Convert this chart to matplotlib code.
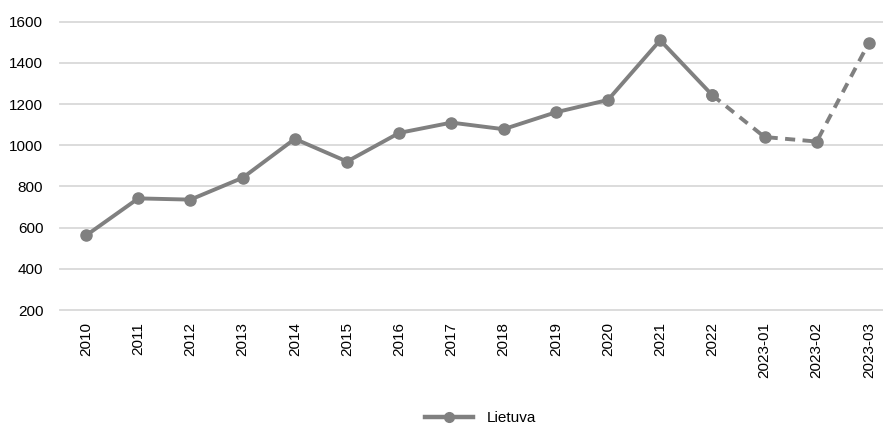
import matplotlib
matplotlib.use("Agg")
import matplotlib.pyplot as plt
from matplotlib.lines import Line2D

plt.rcParams['font.family'] = ['Liberation Sans', 'DejaVu Sans']

categories = ["2010", "2011", "2012", "2013", "2014", "2015", "2016", "2017",
              "2018", "2019", "2020", "2021", "2022", "2023-01", "2023-02", "2023-03"]
values = [562, 742, 736, 842, 1031, 921, 1060, 1110,
          1078, 1160, 1220, 1510, 1243, 1040, 1018, 1498]
series_name = "Lietuva"
yticks = [200, 400, 600, 800, 1000, 1200, 1400, 1600]

# index of the last annual value; monthly values after it are drawn dashed
split = categories.index("2022")

color = "#808080"
fig = plt.figure(figsize=(8.83, 4.26), dpi=100)
ax = fig.add_axes([60 / 883, 116 / 426, 1 - 60 / 883, (310 - 21.7) / 426])

x = list(range(len(categories)))
ax.plot(x[:split + 1], values[:split + 1], color=color, lw=2.8,
        marker="o", ms=8, solid_capstyle="round", zorder=3)
ax.plot(x[split:], values[split:], color=color, lw=2.8, ls=(0, (2.6, 1.9)),
        marker="o", ms=8, zorder=3)

ax.set_ylim(200, 1600)
ax.set_yticks(yticks)
ax.set_xlim(-0.5, 15.27)
ax.set_xticks(x)
ax.set_xticklabels(categories, rotation=90, fontsize=11, color="#000000")
ax.tick_params(axis="x", length=0, pad=9)
ax.tick_params(axis="y", length=0, pad=12, labelsize=11)

ax.grid(axis="y", color="#d9d9d9", lw=1.3)
for gl in ax.get_ygridlines():
    gl.set_clip_on(False)
ax.set_axisbelow(True)
for s in ax.spines.values():
    s.set_visible(False)

handle = Line2D([], [], color=color, lw=3.2, marker="o", ms=7)
fig.legend([handle], [series_name], loc="center", bbox_to_anchor=(481 / 883, 1 - 418 / 426),
           frameon=False, fontsize=11, handlelength=3.1, handletextpad=0.95)

fig.savefig("out.png", dpi=100)
